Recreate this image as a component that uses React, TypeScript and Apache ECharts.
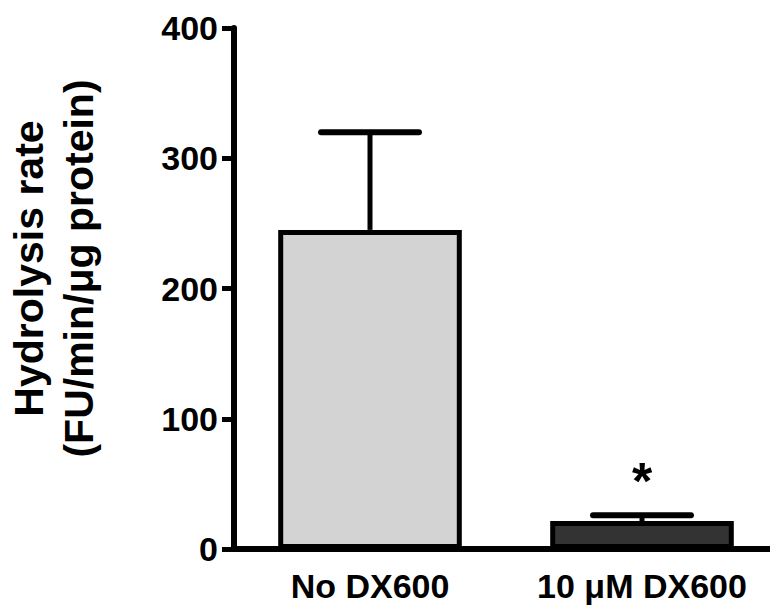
import React, { useEffect, useRef } from "react";
import * as echarts from "echarts";

const categories = ["No DX600", "10 μM DX600"];
const means = [245, 21.5];
const errors = [75, 4.5];
const significance = ["", "*"];
const barColors = ["#d3d3d3", "#333333"];
const yMin = 0;
const yMax = 400;
const yInterval = 100;

const FONT = '"Liberation Sans", Arial, Helvetica, sans-serif';

export default function App() {
  const ref = useRef<HTMLDivElement>(null);
  useEffect(() => {
    document.body.style.margin = "0";
    const chart = echarts.init(ref.current!, null, { renderer: "svg" });
    const option = {
      animation: false,
      backgroundColor: "#ffffff",
      grid: {
        left: 234,
        width: 544,
        top: 28,
        bottom: 60,
        containLabel: false,
        outerBoundsMode: "none",
      },
      xAxis: {
        type: "category",
        data: categories,
        axisLine: { lineStyle: { color: "#000", width: 6 } },
        axisTick: { show: false },
        axisLabel: {
          interval: 0,
          hideOverlap: false,
          color: "#000",
          fontFamily: FONT,
          fontWeight: "bold",
          fontSize: 34,
          margin: 20,
        },
      },
      yAxis: {
        type: "value",
        min: yMin,
        max: yMax,
        interval: yInterval,
        name: "Hydrolysis rate\n(FU/min/μg protein)",
        nameLocation: "middle",
        nameGap: 130,
        nameTextStyle: {
          color: "#000",
          fontFamily: FONT,
          fontWeight: "bold",
          fontSize: 41,
          lineHeight: 50,
          padding: [0, 0, 0, 40],
        },
        axisLine: { show: true, lineStyle: { color: "#000", width: 6 } },
        axisTick: { show: true, length: 12, lineStyle: { color: "#000", width: 5 } },
        splitLine: { show: false },
        axisLabel: {
          color: "#000",
          fontFamily: FONT,
          fontWeight: "bold",
          fontSize: 34,
          margin: 16,
        },
      },
      series: [
        {
          type: "bar",
          barWidth: "67.5%",
          data: means.map((v, i) => ({
            value: v,
            itemStyle: { color: barColors[i], borderColor: "#000", borderWidth: 5 },
          })),
        },
        {
          type: "custom",
          data: categories.map((c, i) => [i, means[i], errors[i]]),
          encode: { x: 0, y: 1 },
          renderItem: (params: any, api: any) => {
            const idx = api.value(0);
            const m = api.value(1);
            const e = api.value(2);
            const base = api.coord([idx, m]);
            const top = api.coord([idx, m + e]);
            const half = api.size([1, 0])[0] * 0.18;
            const children: any[] = [
              {
                type: "line",
                shape: { x1: base[0], y1: base[1], x2: top[0], y2: top[1] },
                style: { stroke: "#000", lineWidth: 5 },
              },
              {
                type: "line",
                shape: { x1: top[0] - half, y1: top[1], x2: top[0] + half, y2: top[1] },
                style: { stroke: "#000", lineWidth: 6, lineCap: "round" },
              },
            ];
            const sig = significance[params.dataIndex];
            if (sig) {
              children.push({
                type: "text",
                x: top[0],
                y: top[1] - 8,
                style: {
                  text: sig,
                  fill: "#000",
                  font: `bold 52px ${FONT}`,
                  textAlign: "center",
                  textVerticalAlign: "bottom",
                },
              });
            }
            return { type: "group", children };
          },
        },
      ],
    };
    chart.setOption(option as any);
    return () => chart.dispose();
  }, []);
  return (
    <div
      ref={ref}
      style={{ position: "absolute", left: 0, top: 0, width: 770, height: 609 }}
    />
  );
}
